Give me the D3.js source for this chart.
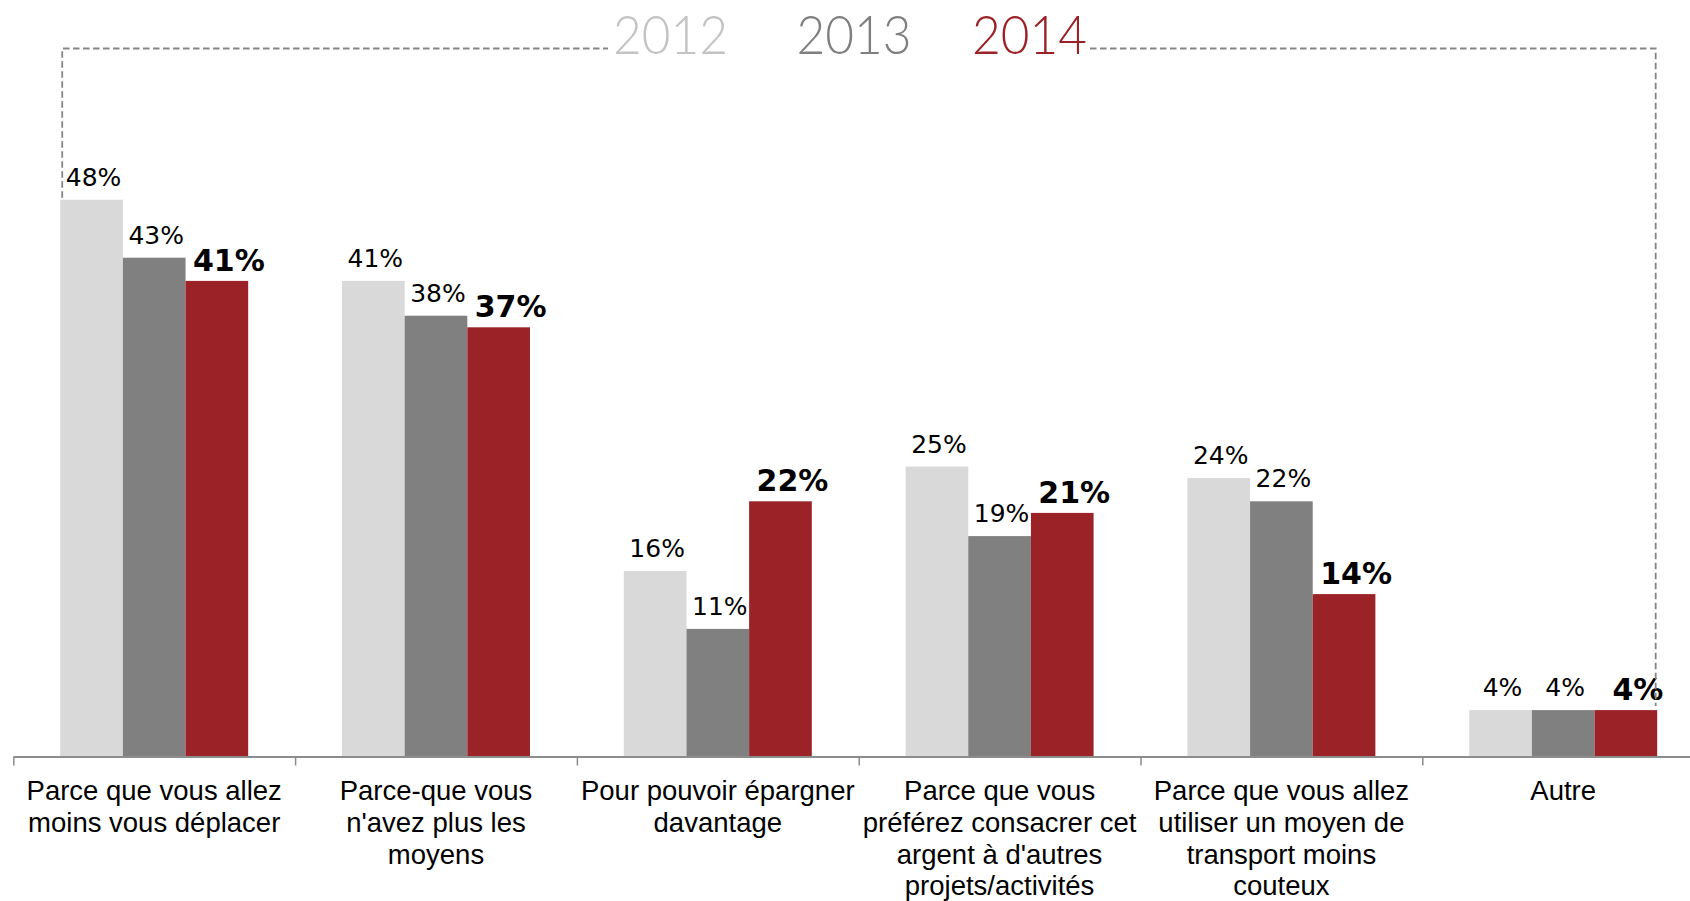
<!DOCTYPE html>
<html>
<head>
<meta charset="utf-8">
<script src="https://cdn.jsdelivr.net/npm/d3@7/dist/d3.min.js"></script>
<style>
  html, body { margin: 0; padding: 0; background: #ffffff; overflow: hidden; }
  svg { display: block; }
</style>
</head>
<body>
<svg id="chart" width="1690" height="901"></svg>
<script>
// ---------- data ----------
const categories = [
  "Parce que vous allez\nmoins vous déplacer",
  "Parce-que vous\nn'avez plus les\nmoyens",
  "Pour pouvoir épargner\ndavantage",
  "Parce que vous\npréférez consacrer cet\nargent à d'autres\nprojets/activités",
  "Parce que vous allez\nutiliser un moyen de\ntransport moins\ncouteux",
  "Autre"
];
const seriesNames = ["2012", "2013", "2014"];
const values2012 = [48, 41, 16, 25, 24, 4];
const values2013 = [43, 38, 11, 19, 22, 4];
const values2014 = [41, 37, 22, 21, 14, 4];
const seriesValues = [values2012, values2013, values2014];

// ---------- styles ----------
const barColors = ["#D9D9D9", "#808080", "#9B2226"];
const legendColors = ["#C3C3C3", "#7F7F7F", "#9B2226"];

const svg = d3.select("#chart");

const axisY = 756.5;
const left = 13.3;
const groupW = 281.8;

const xGroup = d3.scaleBand()
  .domain(d3.range(categories.length))
  .range([left, left + groupW * categories.length])
  .paddingInner(0).paddingOuter(0);

const pad = groupW * 0.1665;
const xSeries = d3.scaleBand()
  .domain(d3.range(seriesNames.length))
  .range([pad, xGroup.bandwidth() - pad])
  .padding(0);

const y = d3.scaleLinear().domain([0, 48]).range([axisY, axisY - 48 * 11.6]);

// ---------- bars ----------
const data = [];
categories.forEach((c, i) => {
  seriesValues.forEach((vals, s) => data.push({ cat: i, s, v: vals[i] }));
});

svg.append("g").selectAll("rect").data(data).join("rect")
  .attr("x", d => xGroup(d.cat) + xSeries(d.s))
  .attr("y", d => y(d.v))
  .attr("width", xSeries.bandwidth())
  .attr("height", d => y(0) - y(d.v))
  .attr("fill", d => barColors[d.s]);

// ---------- value labels ----------
svg.append("g").selectAll("text").data(data).join("text")
  .attr("x", d => xGroup(d.cat) + xSeries(d.s) + xSeries.bandwidth() / 2 + (d.s === 2 ? 12 : 2))
  .attr("y", d => y(d.v) - (d.s === 2 ? 10 : 14))
  .attr("text-anchor", "middle")
  .attr("font-family", "'DejaVu Sans', Verdana, sans-serif")
  .attr("font-size", d => d.s === 2 ? 30 : 25)
  .attr("font-weight", d => d.s === 2 ? "bold" : "normal")
  .attr("fill", "#000")
  .text(d => d.v + "%");

// ---------- axis ----------
const xBound = d3.scaleLinear()
  .domain([0, categories.length])
  .range([left, left + groupW * categories.length]);

const axis = svg.append("g")
  .attr("transform", `translate(0,${axisY})`)
  .call(d3.axisBottom(xBound)
    .tickValues(d3.range(categories.length + 1))
    .tickSize(9)
    .tickSizeOuter(0)
    .tickFormat(""));
axis.select(".domain").attr("stroke", "#8C8C8C").attr("stroke-width", 2);
axis.selectAll(".tick line").attr("stroke", "#8C8C8C").attr("stroke-width", 1.5);

// ---------- category labels ----------
const catG = svg.append("g");
categories.forEach((c, i) => {
  const t = catG.append("text")
    .attr("x", xGroup(i) + xGroup.bandwidth() / 2)
    .attr("y", 800)
    .attr("text-anchor", "middle")
    .attr("font-family", "'Liberation Sans', Arial, sans-serif")
    .attr("font-size", 27.5)
    .attr("fill", "#000");
  c.split("\n").forEach((line, k) => {
    t.append("tspan")
      .attr("x", xGroup(i) + xGroup.bandwidth() / 2)
      .attr("dy", k === 0 ? 0 : 31.8)
      .text(line);
  });
});

// ---------- dashed frame + legend ----------
const firstBarX = xGroup(0) + xSeries(0) + 2;
const lastBarX = xGroup(categories.length - 1) + xSeries(2) + xSeries.bandwidth() - 1.5;
const frameTop = 48.5;
const dashStyle = { stroke: "#858585", "stroke-width": 1.8, "stroke-dasharray": "6.5,3.5", fill: "none" };

function dashed(path) {
  const p = svg.append("path").attr("d", path);
  Object.entries(dashStyle).forEach(([k, v]) => p.attr(k, v));
}
dashed(`M${firstBarX},${y(values2012[0]) - 2} L${firstBarX},${frameTop} L608,${frameTop}`);
dashed(`M1090,${frameTop} L${lastBarX},${frameTop} L${lastBarX},${y(values2014[categories.length - 1]) - 4}`);

const legendCenters = [670.5, 854, 1029.5];
svg.append("g").selectAll("text").data(seriesNames).join("text")
  .attr("x", (d, i) => legendCenters[i] - 57.5)
  .attr("y", 54)
  .attr("font-family", "Lato, 'Open Sans', sans-serif")
  .attr("font-weight", 300)
  .attr("font-size", 54)
  .attr("textLength", 115)
  .attr("lengthAdjust", "spacingAndGlyphs")
  .attr("fill", (d, i) => legendColors[i])
  .text(d => d);
</script>
</body>
</html>
